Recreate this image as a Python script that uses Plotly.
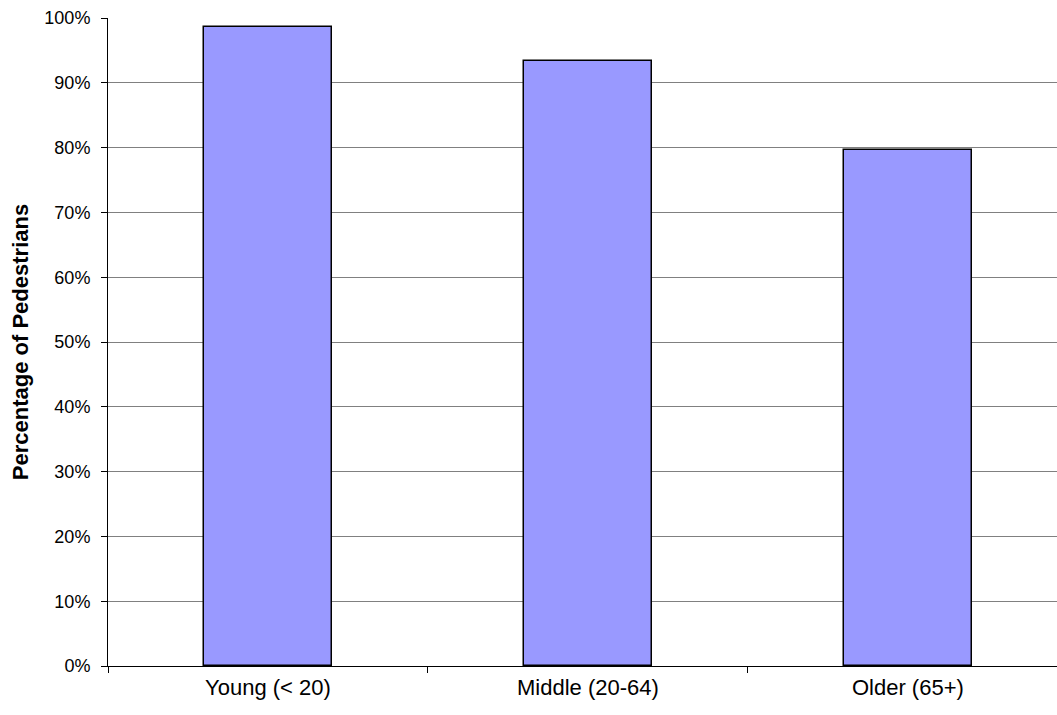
import plotly.graph_objects as go

# Share of pedestrians by age group
age_groups = ["Young (< 20)", "Middle (20-64)", "Older (65+)"]
share = [0.986, 0.934, 0.796]
y_ticks = [0, 0.1, 0.2, 0.3, 0.4, 0.5, 0.6, 0.7, 0.8, 0.9, 1.0]
y_tick_labels = ["0%", "10%", "20%", "30%", "40%", "50%", "60%", "70%", "80%", "90%", "100%"]

fig = go.Figure(
    go.Bar(
        x=age_groups,
        y=share,
        width=0.4,
        marker=dict(color="#9999FF", line=dict(color="#000000", width=1.5)),
        hoverinfo="skip",
    )
)

fig.update_layout(
    width=1057,
    height=715,
    margin=dict(l=108, r=0, t=18, b=49),
    paper_bgcolor="white",
    plot_bgcolor="white",
    font=dict(family="Liberation Sans, Arial, sans-serif", color="#000000"),
    showlegend=False,
    bargap=0,
)

fig.update_xaxes(
    type="category",
    range=[-0.5, 2.466],
    showline=True,
    linecolor="#000000",
    linewidth=1,
    ticks="outside",
    tickson="boundaries",
    ticklen=6,
    tickcolor="#000000",
    tickfont=dict(size=22),
    ticklabelstandoff=2,
    showgrid=False,
)

fig.update_yaxes(
    range=[0, 1.0],
    tickvals=y_ticks,
    ticktext=y_tick_labels,
    showline=True,
    linecolor="#000000",
    linewidth=1,
    ticks="outside",
    ticklen=6,
    tickcolor="#000000",
    tickfont=dict(size=18),
    ticklabelstandoff=7,
    showgrid=True,
    gridcolor="#808080",
    gridwidth=1,
    zeroline=False,
    title=dict(text="<b>Percentage of Pedestrians</b>", font=dict(size=22), standoff=9),
)

fig.write_html("out.html")
